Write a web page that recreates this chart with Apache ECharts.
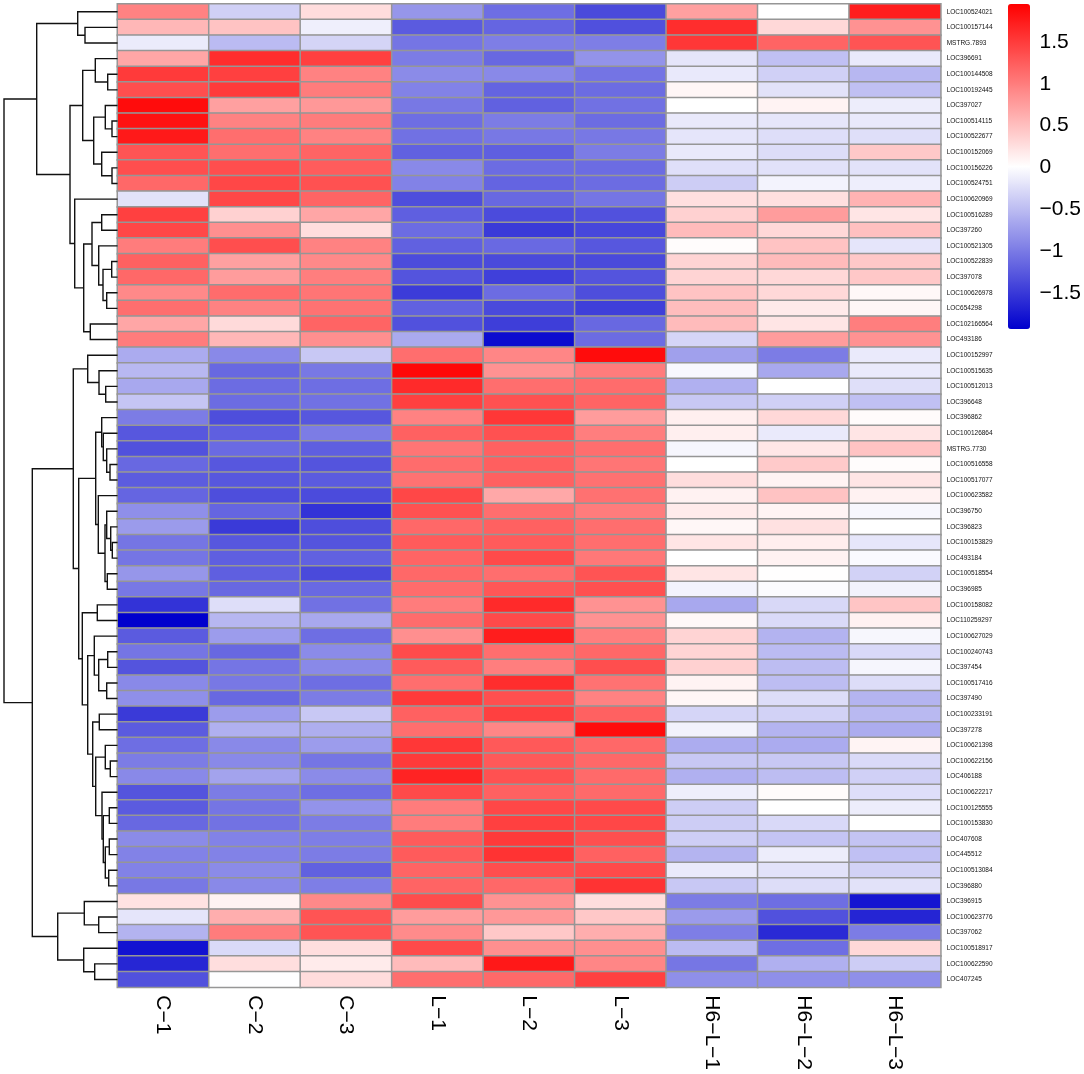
<!DOCTYPE html>
<html>
<head>
<meta charset="utf-8">
<title>heatmap</title>
<script src="https://cdn.jsdelivr.net/npm/echarts@6/dist/echarts.min.js"></script>
<style>
  html, body { margin: 0; padding: 0; background: #fff; }
  #main { width: 1084px; height: 1074px; }
</style>
</head>
<body>
<div id="main"></div>
<script>
var samples = ['C−1', 'C−2', 'C−3', 'L−1', 'L−2', 'L−3', 'H6−L−1', 'H6−L−2', 'H6−L−3'];

var genes = ['LOC100524021','LOC100157144','MSTRG.7893','LOC396691','LOC100144508','LOC100192445','LOC397027',
  'LOC100514115','LOC100522677','LOC100152069','LOC100156226','LOC100524751','LOC100620969','LOC100516289',
  'LOC397260','LOC100521305','LOC100522839','LOC397078','LOC100626978','LOC654298','LOC102166564','LOC493186',
  'LOC100152997','LOC100515635','LOC100512013','LOC396648','LOC396862','LOC100126864','MSTRG.7730','LOC100516558',
  'LOC100517077','LOC100623582','LOC396750','LOC396823','LOC100153829','LOC493184','LOC100518554','LOC396985',
  'LOC100158082','LOC110259297','LOC100627029','LOC100240743','LOC397454','LOC100517416','LOC397490','LOC100233191',
  'LOC397278','LOC100621398','LOC100622156','LOC406188','LOC100622217','LOC100125555','LOC100153830','LOC407608',
  'LOC445512','LOC100513084','LOC396880','LOC396915','LOC100623776','LOC397062','LOC100518917','LOC100622590','LOC407245'];

// values per sample, top row first
var c1 = [0.95,0.55,-0.15,0.68,1.5,1.35,1.85,1.8,1.75,1.3,1.35,1.15,-0.22,1.45,1.4,1.0,1.2,1.15,0.9,1.1,0.68,1.0,
  -0.64,-0.54,-0.66,-0.44,-1.0,-1.28,-1.32,-1.15,-1.24,-1.17,-0.85,-0.76,-1.05,-1.05,-0.8,-1.03,-1.55,-1.94,-1.25,-1.05,
  -1.3,-0.9,-0.85,-1.5,-1.25,-1.1,-1.0,-0.9,-1.3,-1.25,-1.15,-0.88,-0.95,-0.95,-1.03,0.22,-0.2,-0.58,-1.8,-1.65,-1.32];
var c2 = [-0.36,0.46,-0.52,1.6,1.45,1.5,0.72,0.95,1.1,1.1,1.35,1.4,1.4,0.35,0.85,1.35,0.72,0.75,1.12,0.95,0.28,0.55,
  -0.9,-1.15,-1.12,-1.12,-1.35,-1.22,-1.13,-1.28,-1.28,-1.35,-1.17,-1.5,-1.28,-1.22,-1.22,-1.15,-0.25,-0.55,-0.75,-1.15,
  -1.05,-1.03,-1.15,-0.75,-0.6,-0.9,-0.9,-0.7,-1.0,-1.05,-1.07,-0.95,-0.95,-0.88,-0.9,0.1,0.62,1.0,-0.28,0.25,-0.01];
var c3 = [0.26,-0.12,-0.33,1.45,0.95,1.0,0.78,1.0,0.95,1.18,1.24,1.32,1.18,0.68,0.26,0.95,0.9,0.98,1.05,1.07,1.18,0.85,
  -0.42,-1.03,-1.1,-1.08,-1.28,-1.0,-1.22,-1.3,-1.25,-1.37,-1.55,-1.35,-1.3,-1.2,-1.38,-1.14,-1.08,-0.66,-1.1,-0.88,
  -0.9,-1.1,-1.0,-0.42,-0.62,-0.75,-1.05,-0.88,-1.1,-0.82,-1.0,-0.98,-1.0,-1.2,-0.98,0.9,1.3,1.3,0.25,0.15,0.27];
var l1 = [-0.8,-1.25,-1.05,-1.0,-0.88,-0.95,-1.03,-1.1,-1.08,-1.2,-0.9,-0.95,-1.35,-1.22,-1.12,-1.2,-1.36,-1.3,-1.48,-1.2,-1.32,-0.65,
  1.1,1.88,1.62,1.45,0.95,1.2,1.05,1.12,1.07,1.4,1.32,1.15,1.25,1.18,1.15,1.12,1.0,1.12,0.85,1.37,
  1.25,1.1,1.5,1.2,1.1,1.52,1.5,1.67,1.38,1.0,1.0,1.25,1.25,1.18,1.18,1.36,0.75,0.88,1.38,0.52,1.1];
var l2 = [-1.1,-1.17,-0.98,-1.15,-0.9,-1.18,-1.2,-1.0,-1.03,-1.22,-1.12,-1.18,-1.15,-1.37,-1.5,-1.14,-1.38,-1.45,-1.12,-1.38,-1.47,-1.85,
  0.92,0.83,1.1,1.32,1.52,1.32,1.2,1.22,1.2,0.66,1.1,1.2,1.25,1.38,1.1,1.28,1.62,1.38,1.72,1.1,
  0.98,1.6,1.34,1.45,0.92,1.26,1.26,1.32,1.2,1.4,1.45,1.5,1.55,1.35,1.15,0.83,0.78,0.42,0.85,1.76,1.14];
var l3 = [-1.38,-1.33,-0.98,-0.82,-1.06,-1.12,-1.08,-1.12,-1.03,-1.0,-1.12,-1.12,-1.05,-1.32,-1.4,-1.28,-1.38,-1.3,-1.35,-1.46,-1.15,-1.12,
  1.85,1.0,1.12,1.18,0.75,0.98,1.1,1.05,1.08,1.08,1.0,1.1,1.1,1.03,1.3,1.33,0.83,0.83,0.98,1.15,
  1.35,1.07,0.95,1.2,1.85,1.15,1.15,1.13,1.13,1.38,1.4,1.34,1.2,1.38,1.55,0.25,0.42,0.62,0.85,0.92,1.45];
var h1 = [0.72,1.6,1.52,-0.2,-0.17,0.07,0,-0.17,-0.2,-0.17,-0.24,-0.38,0.24,0.35,0.52,0.02,0.33,0.33,0.46,0.5,0.52,-0.32,
  -0.72,-0.05,-0.6,-0.42,0.12,0.12,-0.07,0,0.26,0.1,0.15,0.06,0.2,0,0.2,-0.09,-0.66,0.05,0.33,0.33,
  0.35,0.09,0.07,-0.32,-0.1,-0.63,-0.42,-0.6,-0.13,-0.38,-0.38,-0.37,-0.57,-0.16,-0.42,-1.0,-0.76,-0.98,-0.52,-1.04,-0.85];
var h2 = [0,0.3,1.18,-0.48,-0.36,-0.22,0.09,-0.19,-0.25,-0.26,-0.23,-0.09,0.24,0.75,0.3,0.46,0.52,0.3,0.3,0.16,0.2,0.75,
  -1.0,-0.66,0,-0.36,0.3,-0.16,0.18,0.4,0.09,0.46,0.08,0.23,0.13,0.1,0.01,-0.03,-0.3,-0.28,-0.58,-0.52,
  -0.5,-0.5,-0.26,-0.34,-0.57,-0.64,-0.42,-0.5,0.03,0,-0.29,-0.45,-0.14,-0.22,-0.26,-1.1,-1.32,-1.62,-1.1,-0.6,-0.85];
var h3 = [1.72,0.83,1.3,-0.17,-0.55,-0.48,-0.14,-0.17,-0.24,0.42,-0.22,-0.13,0.58,0.2,0.48,-0.2,0.42,0.42,0.05,0.07,0.98,0.83,
  -0.16,-0.16,-0.24,-0.48,0.03,0.2,0.46,0.02,0.2,0.1,-0.06,0,-0.19,-0.04,-0.34,-0.1,0.44,0.11,-0.06,-0.29,
  -0.07,-0.26,-0.57,-0.53,-0.63,0.08,-0.28,-0.36,-0.25,-0.14,0,-0.45,-0.48,-0.34,-0.22,-1.78,-1.66,-1.0,0.3,-0.38,-0.85];
var columns = [c1, c2, c3, l1, l2, l3, h1, h2, h3];

var colorTicks = [-1.5, -1, -0.5, 0, 0.5, 1, 1.5];
var colorLimit = 1.94;

// row clustering: [merge height, upper branch, lower branch], 0 = a leaf, leaves run in row order
var rowTree = [113.5,
  [80.8,
    [39.8, 0, [32.5, 0, 0]],
    [47.5,
      [34.8,
        [22.2, 0, [9.8, 0, 0]],
        [23.8,
          [12.2, 0, [5.5, 0, 0]],
          [15.8, 0, [5.5, 0, 0]]]],
      [42.8, 0,
        [33.8,
          [25.5,
            [15.8, 0, 0],
            [18.8, 0, [14.5, [5.8, 0, 0], [10.8, 0, 0]]]],
          [27.2, 0, 0]]]]],
  [85.2,
    [44.2,
      [29.8, 0, [18.5, 0, [11.8, 0, 0]]],
      [38.8,
        [21.8,
          [15.8, 0, [14.2, 0, [10.8, 0, [7.5, 0, 0]]]],
          [19.2, 0, [12.5, [10.8, 0, [6.8, 0, [5.2, 0, 0]]], [10.2, 0, 0]]]],
        [35.2,
          [20.2, 0, 0],
          [29.8,
            [23.2, 0, [18.8, [9.8, 0, 0], [10.8, 0, 0]]],
            [24.8,
              [18.2, 0, 0],
              [21.8,
                [12.2, 0, [7.2, 0, 0]],
                [15.5, 0, [14.2, [8.2, 0, 0], [12.2, [8.2, 0, 0], [8.8, 0, 0]]]]]]]]]],
    [59.8,
      [33.2, 0, [18.8, 0, 0]],
      [33.8, 0, [22.8, 0, 0]]]]];
var treeMaxHeight = 117.5;

// heatmap cells
var cells = [];
columns.forEach(function (col, x) {
  col.forEach(function (v, y) {
    cells.push([x, y, v]);
  });
});

// flatten the tree into one item per merge
var merges = [];
var nextLeaf = 0;
function walk(node) {
  if (node === 0) {
    nextLeaf++;
    return { h: 0, y: nextLeaf - 0.5 };
  }
  var a = walk(node[1]);
  var b = walk(node[2]);
  merges.push([node[0], a.h, a.y, b.h, b.y]);
  return { h: node[0], y: (a.y + b.y) / 2 };
}
walk(rowTree);

var chart = echarts.init(document.getElementById('main'), null, { renderer: 'canvas' });

var gridTop = 4;
var gridHeight = 983.3;
var fontName = '"Liberation Sans", Arial, sans-serif';

var option = {
  animation: false,
  backgroundColor: '#fff',
  textStyle: { fontFamily: fontName },
  grid: [
    { left: 117.5, top: gridTop, width: 823.2, height: gridHeight },
    { left: 0, top: gridTop, width: 117.5, height: gridHeight },
    { left: 1008, top: gridTop + 1, width: 22, height: 325 }
  ],
  xAxis: [
    {
      type: 'category', gridIndex: 0, data: samples, position: 'bottom',
      axisLine: { show: false }, axisTick: { show: false }, splitLine: { show: false },
      axisLabel: { rotate: -90, fontSize: 21, color: '#000', margin: 8, interval: 0, fontFamily: fontName }
    },
    { type: 'value', gridIndex: 1, min: 0, max: treeMaxHeight, inverse: true, show: false },
    { type: 'value', gridIndex: 2, min: 0, max: 1, show: false }
  ],
  yAxis: [
    {
      type: 'category', gridIndex: 0, data: genes, inverse: true, position: 'right',
      axisLine: { show: false }, axisTick: { show: false }, splitLine: { show: false },
      axisLabel: { fontSize: 6.5, color: '#111', margin: 6, interval: 0, fontFamily: fontName }
    },
    { type: 'value', gridIndex: 1, min: 0, max: genes.length, inverse: true, show: false },
    {
      type: 'value', gridIndex: 2, min: -colorLimit, max: colorLimit, position: 'right',
      axisLine: { show: false }, axisTick: { show: false }, splitLine: { show: false },
      axisLabel: {
        customValues: colorTicks, fontSize: 21, color: '#000', margin: 10, fontFamily: fontName,
        formatter: function (v) { return String(v).replace('-', '−'); }
      }
    }
  ],
  visualMap: {
    type: 'continuous', seriesIndex: 0, min: -colorLimit, max: colorLimit,
    left: 1008, top: gridTop, itemWidth: 22, itemHeight: 325, padding: 0,
    calculable: false, hoverLink: false, text: null, showLabel: false,
    inRange: { color: ['#0000CD', '#FFFFFF', '#FF0000'] }
  },
  series: [
    {
      type: 'heatmap', xAxisIndex: 0, yAxisIndex: 0, data: cells,
      itemStyle: { borderColor: '#969696', borderWidth: 1.5 },
      emphasis: { disabled: true }
    },
    {
      type: 'custom', xAxisIndex: 1, yAxisIndex: 1, data: merges, silent: true,
      renderItem: function (params, api) {
        var h = api.value(0);
        var pts = [
          api.coord([api.value(1), api.value(2)]),
          api.coord([h, api.value(2)]),
          api.coord([h, api.value(4)]),
          api.coord([api.value(3), api.value(4)])
        ];
        return {
          type: 'polyline',
          shape: { points: pts },
          style: { fill: null, stroke: '#111', lineWidth: 1.4 }
        };
      }
    }
  ]
};
chart.setOption(option);
</script>
</body>
</html>
